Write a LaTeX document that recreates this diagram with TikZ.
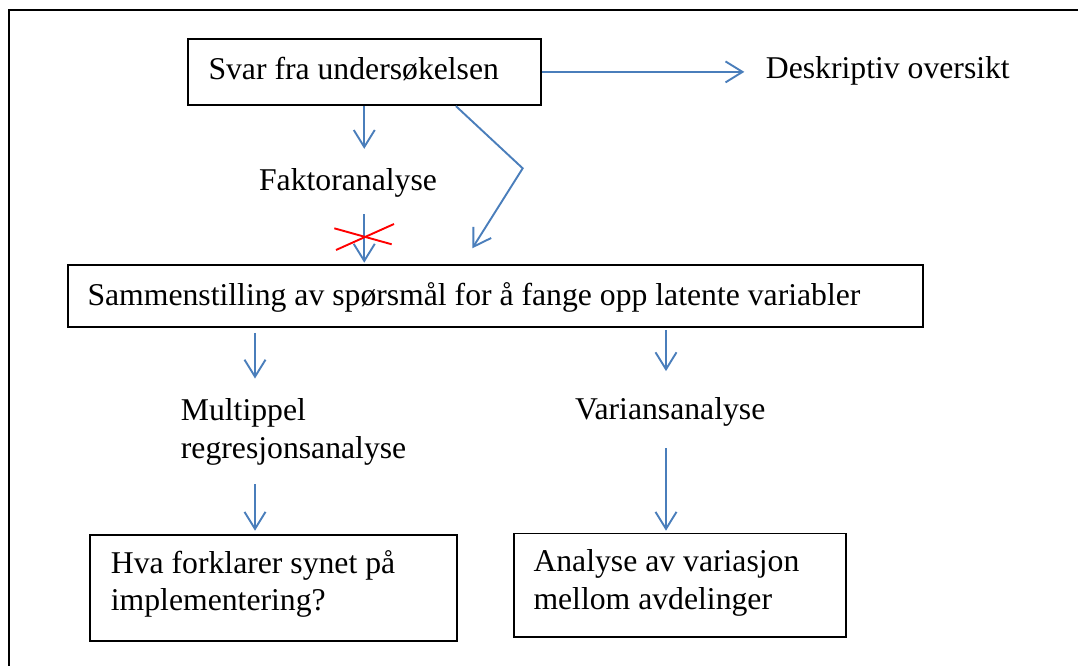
\documentclass[tikz,border=0pt]{standalone}
\usepackage{fontspec}
\setmainfont{Liberation Serif}
\usetikzlibrary{arrows.meta}
\definecolor{flowblue}{RGB}{74,126,187}
\definecolor{crossred}{RGB}{255,0,0}

\begin{document}
\begin{tikzpicture}[x=1pt,y=1pt,
  box/.style={draw=black, line width=1.8pt, inner sep=0pt, anchor=north west},
  % multi-line texts are placed by the baseline of their last line
  txt/.style={inner sep=0pt, font=\fontsize{31.7}{37.5}\selectfont, align=left, anchor=base west},
  flow/.style={draw=flowblue, line width=1.9pt, -{Straight Barb[length=17pt,width=21pt]}},
  cross/.style={draw=crossred, line width=1.9pt}]
\useasboundingbox (0,0) rectangle (1078,-665);
\clip (0,0) rectangle (1078,-665);

% outer frame, running past the page on the right and below
\draw[line width=2.2pt] (9,-10) rectangle (1100,-700);

% boxes
\node[box, minimum width=353.3pt, minimum height=66.6pt] (svar) at (186.7,-37.7) {};
\node[box, minimum width=854.7pt, minimum height=61.4pt] (sam) at (67,-264.3) {};
\node[box, minimum width=366.4pt, minimum height=105.7pt] (hva) at (89.3,-534.3) {};
\node[box, minimum width=332.3pt, minimum height=103.5pt] (anal) at (512.7,-532.5) {};

% texts
\node[txt] (svartxt) at (208.3,-79) {Svar fra undersøkelsen};
\node[txt] (desk) at (765.7,-78.3) {Deskriptiv oversikt};
\node[txt] (fakt) at (258.9,-190) {Faktoranalyse};
\node[txt] (samtxt) at (87.3,-305.7) {Sammenstilling av spørsmål for å fange opp latente variabler};
\node[txt] (multi) at (180.7,-458) {Multippel\\regresjonsanalyse};
\node[txt] (var) at (575,-419.3) {Variansanalyse};
\node[txt] (hvatxt) at (110.7,-610.7) {Hva forklarer synet på\\implementering?};
\node[txt] (analtxt) at (533.3,-609.3) {Analyse av variasjon\\mellom avdelinger};

% columns of the lower arrows
\coordinate (colL) at (255,0);
\coordinate (colR) at (666,0);
\coordinate (bend) at (522.7,-168.3);
\coordinate (diagend) at (472.3,-248.3);

% connectors
\draw[flow, shorten >=21.4pt] (svar.east) -- (svar.east -| desk.west);
\draw[flow, shorten >=19pt] (svar.south) -- (svar.south |- fakt.north);
\draw[flow, shorten <=17pt, shorten >=1.6pt] (svar.south |- fakt.south) -- (svar.south |- sam.north);
\draw[flow] ([xshift=91.65pt]svar.south) -- (bend) -- (diagend);
\draw[flow, shorten <=5.3pt, shorten >=19.8pt] (sam.south -| colL) -- (multi.north -| colL);
\draw[flow, shorten <=19pt, shorten >=3.6pt] (multi.south -| colL) -- (hva.north -| colL);
\draw[flow, shorten <=2.3pt, shorten >=26pt] (sam.south -| colR) -- (var.north -| colR);
\draw[flow, shorten <=21.8pt, shorten >=1.8pt] (var.south -| colR) -- (anal.north -| colR);

% crossed-out factor analysis step
\draw[cross] (334.3,-228.3) -- (391.7,-244.3);
\draw[cross] (336,-250) -- (394,-224);
\end{tikzpicture}
\end{document}
